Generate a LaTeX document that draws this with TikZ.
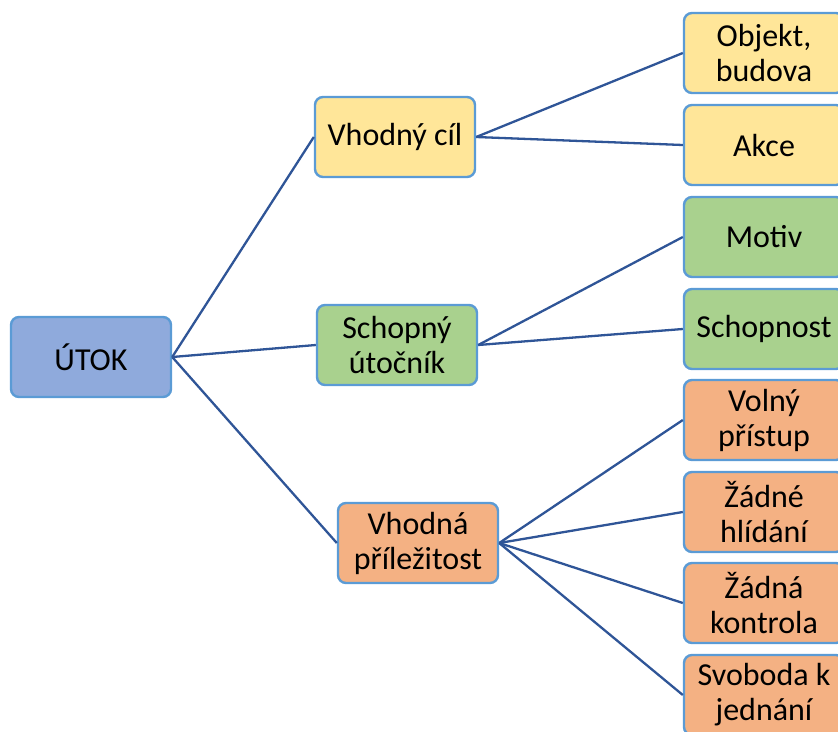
\documentclass[tikz,border=0pt]{standalone}
\usepackage{fontspec}
\setmainfont{Carlito}
\definecolor{lineblue}{HTML}{2F5597}
\definecolor{edgeblue}{HTML}{5B9BD5}
\definecolor{fillblue}{HTML}{8FAADC}
\definecolor{fillyellow}{HTML}{FFE699}
\definecolor{fillgreen}{HTML}{A9D18E}
\definecolor{fillorange}{HTML}{F4B183}
\begin{document}
\begin{tikzpicture}[x=1pt,y=-1pt,
  box/.style={draw=edgeblue, line width=2.4pt, rounded corners=8pt, minimum width=160pt, minimum height=80pt, align=center, inner sep=0pt, font=\fontsize{32}{35}\selectfont},
  link/.style={draw=lineblue, line width=2.3pt}]
\useasboundingbox (0,0) rectangle (838,731);
\clip (0,0) rectangle (838,731);
\node[box, fill=fillblue] (utok) at (91,357) {ÚTOK};
\node[box, fill=fillyellow] (cil) at (395,137) {Vhodný cíl};
\node[box, fill=fillgreen] (utocnik) at (397,345) {Schopný\\útočník};
\node[box, fill=fillorange] (prilez) at (418,543) {Vhodná\\příležitost};
\node[box, fill=fillyellow] (objekt) at (764,53) {Objekt,\\budova};
\node[box, fill=fillyellow] (akce) at (764,145) {Akce};
\node[box, fill=fillgreen] (motiv) at (764,237) {Motiv};
\node[box, fill=fillgreen] (schopnost) at (764,329) {Schopnost};
\node[box, fill=fillorange] (volny) at (764,420) {Volný\\přístup};
\node[box, fill=fillorange] (hlidani) at (764,512) {Žádné\\hlídání};
\node[box, fill=fillorange] (kontrola) at (764,603) {Žádná\\kontrola};
\node[box, fill=fillorange] (svoboda) at (764,695) {Svoboda k\\jednání};
\draw[link] (utok.east) -- (cil.west);
\draw[link] (utok.east) -- (utocnik.west);
\draw[link] (utok.east) -- (prilez.west);
\draw[link] (cil.east) -- (objekt.west);
\draw[link] (cil.east) -- (akce.west);
\draw[link] (utocnik.east) -- (motiv.west);
\draw[link] (utocnik.east) -- (schopnost.west);
\draw[link] (prilez.east) -- (volny.west);
\draw[link] (prilez.east) -- (hlidani.west);
\draw[link] (prilez.east) -- (kontrola.west);
\draw[link] (prilez.east) -- (svoboda.west);
\end{tikzpicture}
\end{document}
